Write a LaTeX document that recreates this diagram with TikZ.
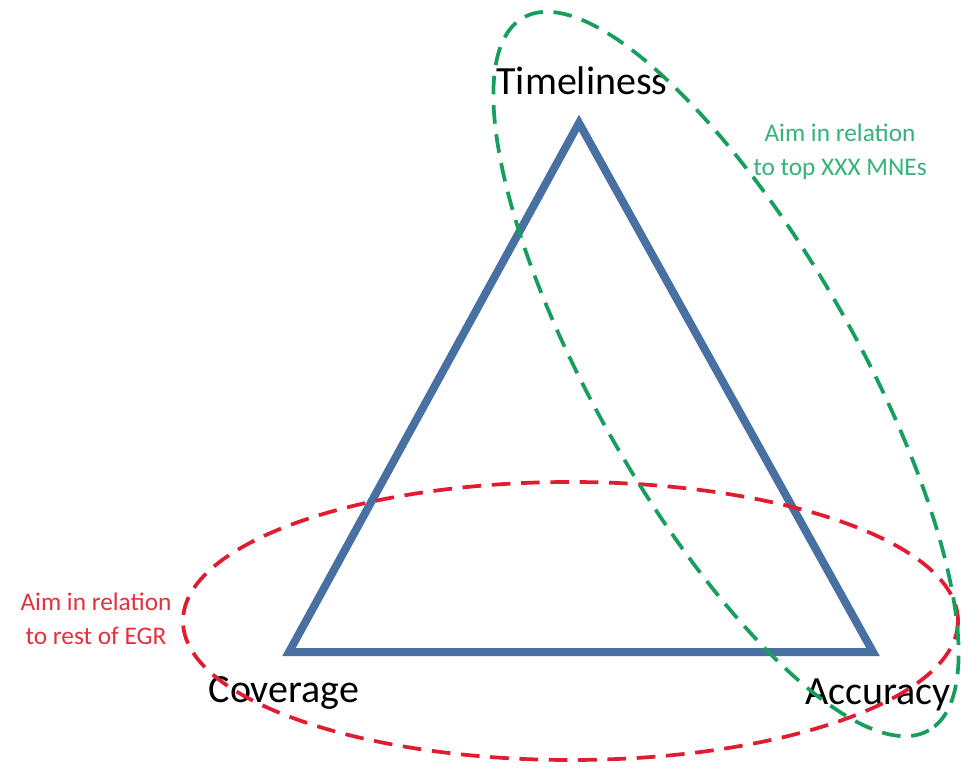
\documentclass[tikz,border=0pt]{standalone}
\usepackage{fontspec}
\setmainfont{Carlito}

\definecolor{triBlue}{RGB}{72,112,163}
\definecolor{ringRed}{RGB}{226,28,48}
\definecolor{ringGreen}{RGB}{22,158,92}
\definecolor{textGreen}{RGB}{52,178,122}
\definecolor{textRed}{RGB}{228,48,58}

\tikzset{
	corner label/.style={font=\fontsize{30}{36}\selectfont, text=black, inner sep=0pt},
	aim label/.style={font=\fontsize{19}{25.5}\selectfont, align=center, inner sep=0pt},
	aim ring/.style={dash pattern=on 14pt off 8pt, line width=2.8pt}}
\tikzset{every picture/.style={line width=0.75pt}}

\begin{document}
\begin{tikzpicture}[x=0.75pt,y=0.75pt,yscale=-1,xscale=1]
	\useasboundingbox (0,0) rectangle (968,770); %set diagram size to 968 x 770

	%Shape: Triangle [corners]
	\coordinate (apex) at (579,123) ;
	\coordinate (baseL) at (289,652) ;
	\coordinate (baseR) at (873,652) ;
	\draw [color=triBlue, line width=6pt] (apex) -- (baseL) -- (baseR) -- cycle ;

	% Text Node
	\node [corner label, anchor=base] (timeliness) at (582,95) {Timeliness};
	% Text Node
	\node [corner label, anchor=base] (coverage) at (284,702) {Coverage};
	% Text Node
	\node [corner label, anchor=base] (accuracy) at (878,704) {Accuracy};

	%Shape: Ellipse [red ring]
	\draw [aim ring, color=ringRed] (570.5,621) ellipse [x radius=387.5, y radius=139] ;
	%Shape: Ellipse [green ring]
	\draw [aim ring, color=ringGreen, rotate around={60.35:(726,374)}] (726,374) ellipse [x radius=410, y radius=131] ;

	% Text Node
	\node [aim label, text=textGreen] (aimtop) at (840,152) {Aim in relation\\to top XXX MNEs};
	% Text Node
	\node [aim label, text=textRed] (aimrest) at (96,619) {Aim in relation\\to rest of EGR};

\end{tikzpicture}
\end{document}
